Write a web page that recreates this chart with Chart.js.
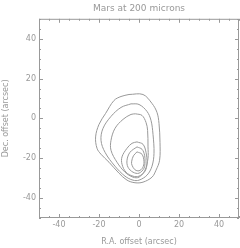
<!DOCTYPE html>
<html>
<head>
<meta charset="utf-8">
<script src="https://cdn.jsdelivr.net/npm/chart.js@4/dist/chart.umd.min.js"></script>
<style>
  html, body { margin: 0; padding: 0; background: #fff; }
  canvas { display: block; }
</style>
</head>
<body>
<canvas id="marsChart" width="240" height="248"></canvas>
<script>
// axis ticks (arcsec)
const tickValues = [-40, -20, 0, 20, 40];
const minorStep = 5;

// contour levels, outer to inner, as [RA offset, Dec offset]
const contour1 = [[-5,12],[2,12],[6.5,7.5],[9,3],[10,-2.5],[10.5,-12],[10.3,-21],[8.5,-26],[6.5,-29.5],[2,-32],[-2,-32.3],[-6,-31],[-10,-27.5],[-15,-22],[-19,-18],[-21,-15],[-21.7,-9.3],[-20,-3],[-16.7,2.5],[-12.5,9],[-9,11],[-5,12]];
const contour2 = [[-4,7.3],[0,7],[4,3.5],[6,-1],[7,-8],[7.5,-17.5],[6.5,-24],[4,-28.5],[0,-31],[-3,-31],[-7,-29],[-12,-24],[-17,-17],[-19,-11],[-18,-5],[-14,1],[-9,5.5],[-4,7.3]];
const contour3 = [[-1.7,2.3],[1.5,1.5],[3.5,-2],[4.3,-6],[4.5,-14.3],[4.5,-20],[3,-26],[0,-29.5],[-3,-29.5],[-7,-27],[-11,-22],[-14,-16],[-14,-11],[-12,-5],[-8,-0.5],[-4,2],[-1.7,2.3]];
const contour4 = [[-1,-11.8],[2,-13],[3.5,-17],[4,-22.5],[3,-26.5],[0,-29],[-3,-29],[-6.5,-27],[-8.5,-23],[-8.5,-19.3],[-6,-15],[-3.5,-12.5],[-1,-11.8]];
const contour5 = [[-1,-14.3],[1.5,-15.5],[2.8,-18.5],[3,-21.8],[2.5,-25],[0,-27.5],[-3,-27],[-5.5,-24.5],[-6,-21],[-4.5,-17],[-1,-14.3]];
const contour6 = [[-1,-16.8],[1.5,-18],[2.5,-21.8],[1.8,-24.8],[0,-26.3],[-2,-25.8],[-3.5,-23.5],[-3.7,-21.8],[-2.8,-18.8],[-1,-16.8]];

const contours = [contour1, contour2, contour3, contour4, contour5, contour6];
const gray = "#999";
const font = { family: "DejaVu Sans", size: 8 };

// box and inward ticks on all four sides
const frame = {
  id: "frame",
  afterDraw(chart) {
    const c = chart.ctx, a = chart.chartArea;
    const xs = chart.scales.x, ys = chart.scales.y;
    c.save();
    c.strokeStyle = gray;
    c.lineWidth = 1;
    c.strokeRect(a.left + 0.5, a.top + 0.5, a.right - a.left - 1, a.bottom - a.top - 1);
    c.beginPath();
    for (let v = xs.min; v <= xs.max; v += minorStep) {
      const len = tickValues.includes(v) ? 4 : 2;
      const px = Math.round(xs.getPixelForValue(v)) + 0.5;
      c.moveTo(px, a.bottom); c.lineTo(px, a.bottom - len);
      c.moveTo(px, a.top); c.lineTo(px, a.top + len);
    }
    for (let v = ys.min; v <= ys.max; v += minorStep) {
      const len = tickValues.includes(v) ? 4 : 2;
      const py = Math.round(ys.getPixelForValue(v)) + 0.5;
      c.moveTo(a.left, py); c.lineTo(a.left + len, py);
      c.moveTo(a.right, py); c.lineTo(a.right - len, py);
    }
    c.stroke();
    c.restore();
  }
};

const setTicks = scale => { scale.ticks = tickValues.map(v => ({ value: v })); };

new Chart(document.getElementById("marsChart"), {
  type: "scatter",
  data: {
    datasets: contours.map((pts, i) => ({
      label: "level " + (i + 1),
      data: pts.map(p => ({ x: p[0], y: p[1] })),
      showLine: true,
      pointRadius: 0,
      borderColor: gray,
      borderWidth: 1,
      tension: 0.35,
      fill: false
    }))
  },
  options: {
    responsive: false,
    animation: false,
    devicePixelRatio: 1,
    layout: { padding: { left: 0, right: 1, top: 0, bottom: 0 } },
    plugins: {
      legend: { display: false },
      tooltip: { enabled: false },
      title: {
        display: true,
        fullSize: false,
        text: "Mars at 200 microns",
        color: gray,
        font: { family: "DejaVu Sans", size: 9, weight: "normal" },
        padding: { top: 3, bottom: 5 }
      }
    },
    scales: {
      x: {
        type: "linear",
        min: -50,
        max: 50,
        afterBuildTicks: setTicks,
        afterFit(scale) { scale.height = 30; },
        grid: { display: false, drawTicks: false },
        border: { display: false },
        ticks: { color: gray, font: font, padding: 2, maxRotation: 0 },
        title: { display: true, text: "R.A. offset (arcsec)", color: gray, font: font, padding: { top: 0, bottom: 1 } }
      },
      y: {
        type: "linear",
        min: -50,
        max: 50,
        afterBuildTicks: setTicks,
        afterFit(scale) { scale.width = 39; },
        grid: { display: false, drawTicks: false },
        border: { display: false },
        ticks: { color: gray, font: font, padding: 3 },
        title: { display: true, text: "Dec. offset (arcsec)", color: gray, font: font, padding: { top: 1, bottom: 0 } }
      }
    }
  },
  plugins: [frame]
});
</script>
</body>
</html>
